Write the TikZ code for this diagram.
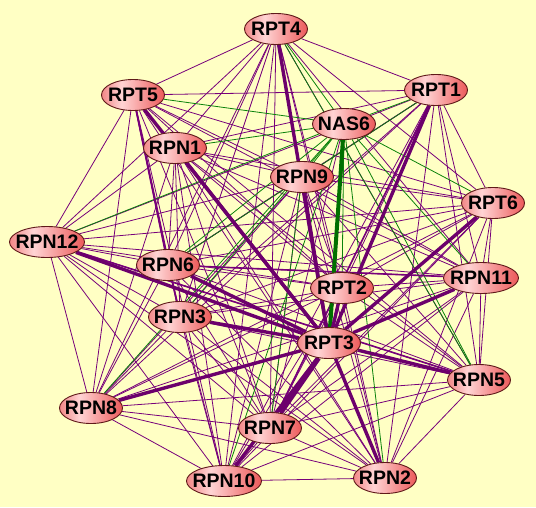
\documentclass[tikz,border=0pt]{standalone}
\usepackage{fontspec}
\setmainfont{Liberation Sans}
\usetikzlibrary{shapes.geometric}
\definecolor{bgc}{HTML}{FFFFC4}
\definecolor{pe}{HTML}{77007A}
\definecolor{pthick}{HTML}{6C006C}
\definecolor{ge}{HTML}{0A820A}
\definecolor{gthick}{HTML}{007000}
\definecolor{nL}{RGB}{242,135,135}
\definecolor{nM}{RGB}{255,212,212}
\definecolor{nR}{RGB}{236,90,90}
\definecolor{nB}{RGB}{95,25,25}
\pgfdeclarehorizontalshading{nodeshade}{100bp}{color(0bp)=(nL); color(25bp)=(nL); color(41bp)=(nM); color(75bp)=(nR); color(100bp)=(nR)}
\newcommand\nlab[1]{\makebox[0pt]{#1}}
\pgfdeclarelayer{bglayer}
\pgfdeclarelayer{edgelayer}
\pgfsetlayers{bglayer,edgelayer,main}
\tikzset{
  nd/.style={ellipse, draw=nB, line width=0.9pt, shading=nodeshade, minimum width=63pt, minimum height=31pt, inner sep=0pt, font=\bfseries\fontsize{19.5}{19.5}\selectfont},
  ndw/.style={nd, minimum width=75pt},
  thinp/.style={draw=pe, line width=0.8pt},
  thing/.style={draw=ge, line width=0.8pt},
  medp/.style={draw=pe, line width=1.6pt},
  thickp/.style={draw=pthick, line width=3.4pt},
  vthickp/.style={draw=pthick, line width=5pt},
  thickg/.style={draw=gthick, line width=4pt}
}
\begin{document}
\begin{tikzpicture}[x=1pt,y=-1pt]
\begin{pgfonlayer}{bglayer}
\path[use as bounding box, fill=bgc] (0,0) rectangle (536,507);
\end{pgfonlayer}
\node[nd] (RPT4) at (276,29) {\nlab{RPT4}};
\node[nd] (RPT5) at (133,95) {\nlab{RPT5}};
\node[nd] (RPT1) at (436,90) {\nlab{RPT1}};
\node[nd] (NAS6) at (344,124) {\nlab{NAS6}};
\node[nd] (RPN1) at (175,148) {\nlab{RPN1}};
\node[nd] (RPN9) at (302,177) {\nlab{RPN9}};
\node[nd] (RPT6) at (493,203) {\nlab{RPT6}};
\node[ndw] (RPN12) at (47,242) {\nlab{RPN12}};
\node[nd] (RPN6) at (168,265) {\nlab{RPN6}};
\node[ndw] (RPN11) at (481,278) {\nlab{RPN11}};
\node[nd] (RPT2) at (342,288) {\nlab{RPT2}};
\node[nd] (RPN3) at (180,317) {\nlab{RPN3}};
\node[nd] (RPT3) at (329,343) {\nlab{RPT3}};
\node[nd] (RPN5) at (479,380) {\nlab{RPN5}};
\node[nd] (RPN8) at (91,408) {\nlab{RPN8}};
\node[nd] (RPN7) at (270,428) {\nlab{RPN7}};
\node[ndw] (RPN10) at (224,481) {\nlab{RPN10}};
\node[nd] (RPN2) at (385,478) {\nlab{RPN2}};
\begin{pgfonlayer}{edgelayer}
\foreach \a [count=\i] in {RPT4,RPT5,RPT1,RPN1,RPN9,RPT6,RPN12,RPN6,RPN11,RPT2,RPN3,RPT3,RPN5,RPN8,RPN7,RPN10,RPN2}{
  \foreach \b [count=\j] in {RPT4,RPT5,RPT1,RPN1,RPN9,RPT6,RPN12,RPN6,RPN11,RPT2,RPN3,RPT3,RPN5,RPN8,RPN7,RPN10,RPN2}{
    \ifnum\i<\j \draw[thinp] (\a) -- (\b);\fi
  }
}
\foreach \b in {RPT4,RPT5,RPT1,RPN1,RPN9,RPT6,RPN12,RPN6,RPN11,RPT2,RPN3,RPN5,RPN8,RPN10,RPN2}{
  \draw[thing] (NAS6) -- (\b);
}
\draw[thinp] (NAS6) -- (RPN7);
\draw[thing] (RPN6) -- (RPT1);
\draw[thing] (RPN9) -- (RPN7);
\draw[thing] (RPT4) -- (RPN5);
\draw[medp] (RPT5) -- (RPN6);
\draw[medp] (RPT5) -- (RPN3);
\draw[medp] (RPT1) -- (RPN7);
\draw[medp] (RPN11) -- (RPN6);
\draw[medp] (RPN5) -- (RPN12);
\draw[thickg] (NAS6) -- (RPT3);
\foreach \b in {RPT4,RPN9,RPT5,RPN1,RPN12,RPN6,RPN3,RPN8,RPN10,RPN2,RPN5,RPN11,RPT6,RPT1,RPT2}{
  \draw[thickp] (RPT3) -- (\b);
}
\draw[vthickp] (RPT3) -- (RPN7);
\end{pgfonlayer}
\end{tikzpicture}
\end{document}
